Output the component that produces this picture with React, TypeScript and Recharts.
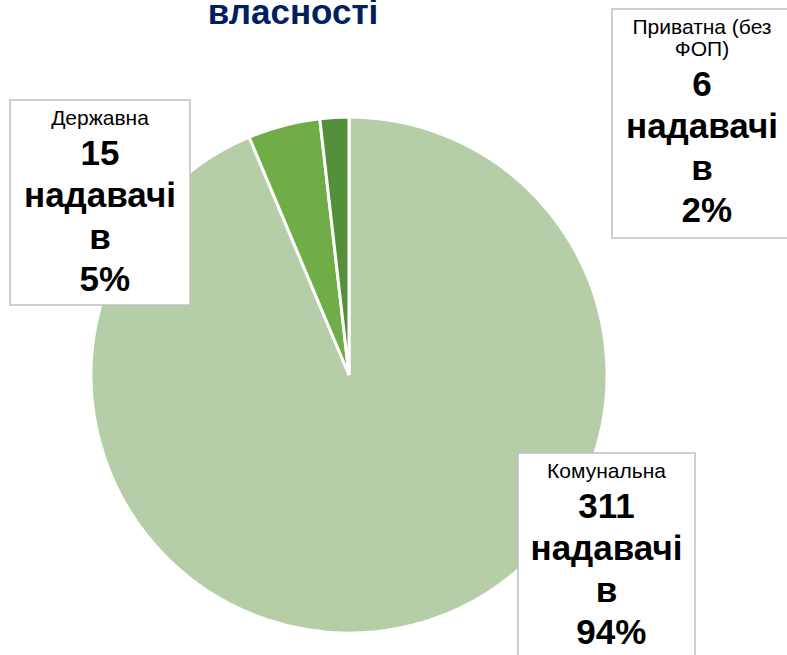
import { Pie, PieChart, Cell } from 'recharts'

const categories = ['Комунальна', 'Державна', 'Приватна (без ФОП)']
const providers = [311, 15, 6]
const unitWord = 'надавачі'
const joinWord = 'в'
const titleText = 'власності'

const colors = ['#b5cea8', '#70ad47', '#548f3a']

// label boxes, offsets from the pie centre
const labelBoxes = [
  { dx: 169, dy: 78, w: 177, h: 225 },
  { dx: -339, dy: -275, w: 180, h: 205 },
  { dx: 263, dy: -366, w: 180, h: 229 },
]

const font = '"Liberation Sans", Arial, sans-serif'
const total = providers.reduce((s, v) => s + v, 0)
const data = categories.map((name, i) => ({ name, value: providers[i] }))

function splitName(name: string) {
  if (name.length <= 12) return [name]
  const cut = name.lastIndexOf(' ')
  return [name.slice(0, cut), name.slice(cut + 1)]
}

function BoxLabel(props: any) {
  const { cx, cy, index } = props
  const box = labelBoxes[index]
  const x = cx + box.dx
  const y = cy + box.dy
  const mid = x + box.w / 2
  const nameLines = splitName(categories[index])
  const pct = Math.round((providers[index] / total) * 100)
  const lastName = y + 25 + (nameLines.length - 1) * 22
  const bold = [String(providers[index]), unitWord, joinWord, `\u00a0${pct}%`]
  return (
    <g>
      <rect x={x} y={y} width={box.w} height={box.h} fill="#fff" stroke="#bfbfbf" strokeWidth={1.5} />
      {nameLines.map((t, i) => (
        <text key={t} x={mid} y={y + 25 + i * 22} textAnchor="middle" fontSize={21} fontFamily={font} fill="#000">
          {t}
        </text>
      ))}
      {bold.map((t, i) => (
        <text key={i} x={mid} y={lastName + 40 + i * 42} textAnchor="middle" fontSize={35} fontWeight="bold" fontFamily={font} fill="#000">
          {t}
        </text>
      ))}
    </g>
  )
}

export default function App() {
  return (
    <div style={{ position: 'absolute', left: 0, top: 0, background: '#fff' }}>
      <PieChart width={787} height={655} margin={{ top: 0, right: 0, bottom: 0, left: 0 }}>
        <text x={293} y={24} textAnchor="middle" fontSize={35} fontWeight="bold" fontFamily={font} fill="#002060">
          {titleText}
        </text>
        <Pie
          data={data}
          dataKey="value"
          nameKey="name"
          cx={349}
          cy={375}
          outerRadius={258}
          startAngle={90}
          endAngle={-270}
          stroke="#fff"
          strokeWidth={3}
          label={BoxLabel}
          labelLine={false}
          isAnimationActive={false}
        >
          {data.map((d, i) => (
            <Cell key={d.name} fill={colors[i]} />
          ))}
        </Pie>
      </PieChart>
    </div>
  )
}
